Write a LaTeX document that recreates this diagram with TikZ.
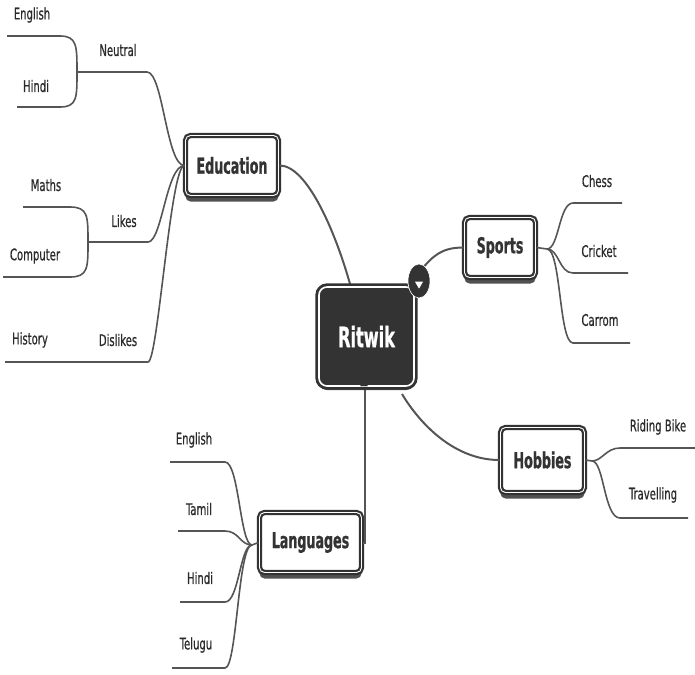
\documentclass[tikz,border=0pt]{standalone}
\usepackage{fontspec}
\setmainfont{DejaVu Sans Condensed}
\newfontfamily\leaffont[FakeStretch=0.70, FakeBold=0.6]{DejaVu Sans Condensed}
\newfontfamily\topicfont[FakeStretch=0.64, FakeBold=0.8]{DejaVu Sans Condensed}
\usetikzlibrary{shadows,shapes.geometric}
\definecolor{ink}{HTML}{333333}
\definecolor{wire}{HTML}{555555}
\definecolor{leaftext}{HTML}{2A2A2A}

\begin{document}
\begin{tikzpicture}[x=1pt,y=-1pt,
  topic/.style={draw=ink, line width=2.2pt, double=white, double distance=0.9pt,
    fill=white, rounded corners=5pt, text=ink, inner sep=0pt,
    font=\topicfont\bfseries\fontsize{22}{24}\selectfont,
    drop shadow={shadow xshift=0pt, shadow yshift=-6pt, fill=ink, opacity=0.85}},
  root/.style={draw=ink, line width=2.8pt, double=white, double distance=1.6pt,
    fill=ink, rounded corners=8pt, text=white, inner sep=0pt,
    font=\topicfont\bfseries\fontsize{28}{30}\selectfont,
    minimum width=95pt, minimum height=99pt,
    drop shadow={shadow xshift=0pt, shadow yshift=-4pt, fill=ink, opacity=0.85}},
  leaf/.style={font=\leaffont\fontsize{16}{18}\selectfont, text=leaftext, inner sep=0pt},
  link/.style={draw=wire, line width=2pt},
  twig/.style={draw=wire, line width=1.6pt},
]
\useasboundingbox (0,0) rectangle (695,674);

% ---------- main topics ----------
\node[topic, minimum width=93pt, minimum height=60pt] (edu) at (232,165.5) {Education};
\node[topic, minimum width=71pt, minimum height=60pt] (sports) at (500,247.5) {Sports};
\node[topic, minimum width=84pt, minimum height=65pt] (hobbies) at (542.5,460) {Hobbies};
\node[topic, minimum width=102pt, minimum height=60pt] (lang) at (310.5,542.5) {Languages};

% ---------- connectors from the centre ----------
\coordinate (rEdu) at (350,284);
\coordinate (rSports) at (421,270);
\coordinate (rHob) at (402,394);
\coordinate (rLang) at (365,386);
\coordinate (langBend) at (365,543);

\draw[link] (edu.east) .. controls +(28,0) and +(-14,-50) .. (rEdu);
\draw[link] (rSports) .. controls +(12,-14) and +(-22,0) .. (sports.west);
\draw[link] (rHob) .. controls +(18,30) and +(-45,0) .. (hobbies.west);
\draw[twig] (rLang) -- (langBend) -- (lang.east |- langBend);

% ---------- central topic ----------
\node[root] (ritwik) at (366.5,336.5) {Ritwik};
\node[draw=ink, fill=ink, isosceles triangle, isosceles triangle apex angle=60,
  shape border rotate=90, minimum size=6pt, inner sep=0pt] (hook) at (364,384) {};
\node[ellipse, fill=ink, draw=white, line width=0.6pt, minimum width=22pt,
  minimum height=34pt, inner sep=0pt] (fold) at (419,281) {};
\node[fill=white, isosceles triangle, isosceles triangle apex angle=60,
  shape border rotate=-90, minimum size=7pt, inner sep=0pt] (foldtip) at (419,284) {};

% ---------- Education branches ----------
\coordinate (neutA) at (77,72);   \coordinate (neutB) at (147,72);
\coordinate (enA) at (60,36);     \coordinate (enB) at (7,36);
\coordinate (hiA) at (60,107);    \coordinate (hiB) at (17,107);
\coordinate (likA) at (88,242);   \coordinate (likB) at (148,242);
\coordinate (maA) at (70,207);    \coordinate (maB) at (23,207);
\coordinate (coA) at (70,277);    \coordinate (coB) at (3,277);
\coordinate (disA) at (148,362);  \coordinate (hisB) at (5,362);

\draw[twig] (edu.west) .. controls +(-18,0) and +(16,0) .. (neutB) -- (neutA);
\draw[twig] (neutA) .. controls +(0,-26) and +(17,0) .. (enA) -- (enB);
\draw[twig] (neutA) .. controls +(0,26) and +(17,0) .. (hiA) -- (hiB);
\draw[twig] (edu.west) .. controls +(-18,0) and +(14,0) .. (likB) -- (likA);
\draw[twig] (likA) .. controls +(0,-26) and +(18,0) .. (maA) -- (maB);
\draw[twig] (likA) .. controls +(0,26) and +(18,0) .. (coA) -- (coB);
\draw[twig] (edu.west) .. controls +(-14,0) and +(10,0) .. (disA) -- (hisB);

\node[leaf] (tNeutral) at (118,50) {Neutral};
\node[leaf] (tEnglish1) at (32,15) {English};
\node[leaf] (tHindi1) at (36,86) {Hindi};
\node[leaf] (tLikes) at (124,221) {Likes};
\node[leaf] (tMaths) at (46,185) {Maths};
\node[leaf] (tComputer) at (35,256) {Computer};
\node[leaf] (tDislikes) at (118,340) {Dislikes};
\node[leaf] (tHistory) at (30,340) {History};

% ---------- Sports branches ----------
\coordinate (spFork) at (547,249);
\coordinate (chA) at (573,203);  \coordinate (chB) at (622,203);
\coordinate (crA) at (573,273);  \coordinate (crB) at (628,273);
\coordinate (caA) at (573,343);  \coordinate (caB) at (630,343);
\draw[twig] (sports.east) -- (spFork);
\draw[twig] (spFork) .. controls +(12,0) and +(-14,0) .. (chA) -- (chB);
\draw[twig] (spFork) .. controls +(12,0) and +(-14,0) .. (crA) -- (crB);
\draw[twig] (spFork) .. controls +(14,0) and +(-14,0) .. (caA) -- (caB);
\node[leaf] (tChess) at (597,181) {Chess};
\node[leaf] (tCricket) at (599,251) {Cricket};
\node[leaf] (tCarrom) at (600,320) {Carrom};

% ---------- Hobbies branches ----------
\coordinate (hbFork) at (592,461);
\coordinate (rbA) at (620,448);  \coordinate (rbB) at (695,448);
\coordinate (trA) at (620,518);  \coordinate (trB) at (688,518);
\draw[twig] (hobbies.east) -- (hbFork);
\draw[twig] (hbFork) .. controls +(10,0) and +(-14,0) .. (rbA) -- (rbB);
\draw[twig] (hbFork) .. controls +(12,0) and +(-16,0) .. (trA) -- (trB);
\node[leaf] (tRiding) at (658,427) {Riding Bike};
\node[leaf] (tTravel) at (653,495) {Travelling};

% ---------- Languages branches ----------
\coordinate (lgFork) at (252,545);
\coordinate (leA) at (225,462);  \coordinate (leB) at (170,462);
\coordinate (ltA) at (225,531);  \coordinate (ltB) at (178,531);
\coordinate (lhA) at (225,602);  \coordinate (lhB) at (180,602);
\coordinate (luA) at (225,668);  \coordinate (luB) at (172,668);
\draw[twig] (lang.west) -- (lgFork);
\draw[twig] (lgFork) .. controls +(-12,0) and +(14,0) .. (leA) -- (leB);
\draw[twig] (lgFork) .. controls +(-12,0) and +(14,0) .. (ltA) -- (ltB);
\draw[twig] (lgFork) .. controls +(-12,0) and +(14,0) .. (lhA) -- (lhB);
\draw[twig] (lgFork) .. controls +(-14,0) and +(12,0) .. (luA) -- (luB);
\node[leaf] (tEnglish2) at (194,440) {English};
\node[leaf] (tTamil) at (199,509) {Tamil};
\node[leaf] (tHindi2) at (200,578) {Hindi};
\node[leaf] (tTelugu) at (196,645) {Telugu};
\end{tikzpicture}
\end{document}
